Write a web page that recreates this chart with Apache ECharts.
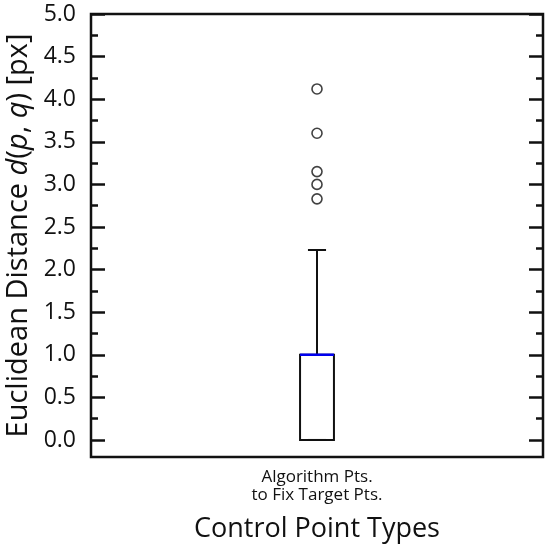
<!DOCTYPE html>
<html>
<head>
<meta charset="utf-8">
<script src="https://cdn.jsdelivr.net/npm/echarts@6/dist/echarts.min.js"></script>
<style>html,body{margin:0;padding:0;background:#fff}#c{width:550px;height:548px}</style>
</head>
<body>
<div id="c"></div>
<script>
// ---- data ----
const categories = ['Algorithm Pts.\nto Fix Target Pts.'];
// [whisker low, Q1, median, Q3, whisker high]
const boxStats = [0.0, 0.0, 1.0, 1.0, 2.23];
const outliers = [2.83, 3.0, 3.15, 3.6, 4.12];
const yMajorTicks = [0.0, 0.5, 1.0, 1.5, 2.0, 2.5, 3.0, 3.5, 4.0, 4.5, 5.0];
const yMinorTicks = [0.25, 0.75, 1.25, 1.75, 2.25, 2.75, 3.25, 3.75, 4.25, 4.75];
const yMin = -0.2, yMax = 5.0;

const FONT = 'Open Sans';
const INK = '#111';

const chart = echarts.init(document.getElementById('c'), null, {renderer: 'canvas'});

function yAxisDef(pos, ticks, len, labels) {
  return {
    type: 'value', position: pos, min: yMin, max: yMax,
    axisLine: {show: false},
    splitLine: {show: false},
    axisTick: {show: true, inside: true, length: len, customValues: ticks,
               lineStyle: {color: INK, width: 2.5}},
    axisLabel: labels ? {show: true, customValues: ticks, fontFamily: FONT, fontSize: 23,
               color: '#111', margin: 15, formatter: v => v.toFixed(1)} : {show: false}
  };
}

const left = yAxisDef('left', yMajorTicks, 14, true);
left.name = '{n|Euclidean Distance }{i|d}{n|(}{i|p}{n|, }{i|q}{n|) [px]}';
left.nameLocation = 'middle';
left.nameGap = 58;
left.nameTextStyle = {
  rich: {
    n: {fontFamily: FONT, fontSize: 29, color: '#111'},
    i: {fontFamily: FONT, fontSize: 29, color: '#111', fontStyle: 'italic'}
  }
};

const option = {
  animation: false,
  backgroundColor: '#fff',
  grid: {left: 91, right: 7, top: 14, bottom: 91, show: true, outerBoundsMode: 'none',
         containLabel: false,
         borderColor: INK, borderWidth: 2.5, backgroundColor: 'transparent'},
  xAxis: {
    type: 'category', data: categories, boundaryGap: true,
    axisLine: {show: false},
    axisTick: {show: true, inside: true, alignWithLabel: true, length: 7,
               lineStyle: {color: INK, width: 2.5}},
    axisLabel: {fontFamily: FONT, fontSize: 17, color: '#111', lineHeight: 18, margin: 11},
    name: 'Control Point Types', nameLocation: 'middle', nameGap: 59,
    nameTextStyle: {fontFamily: FONT, fontSize: 27, color: '#111'}
  },
  yAxis: [
    left,
    yAxisDef('left', yMinorTicks, 7, false),
    yAxisDef('right', yMajorTicks, 14, false),
    yAxisDef('right', yMinorTicks, 7, false)
  ],
  series: [
    {
      type: 'custom',
      data: [[0].concat(boxStats)],
      encode: {x: 0, y: [1, 2, 3, 4, 5]},
      z: 3,
      renderItem: function (params, api) {
        const cat = api.value(0);
        const lo = api.coord([cat, api.value(1)]);
        const q1 = api.coord([cat, api.value(2)]);
        const md = api.coord([cat, api.value(3)]);
        const q3 = api.coord([cat, api.value(4)]);
        const hi = api.coord([cat, api.value(5)]);
        const band = api.size([1, 0])[0];
        const hw = band * 0.075 / 2;
        const cw = band * 0.04 / 2;
        const x = q1[0];
        const ls = {stroke: INK, lineWidth: 2, fill: null};
        return {
          type: 'group',
          children: [
            {type: 'rect', shape: {x: x - hw, y: q3[1], width: 2 * hw, height: q1[1] - q3[1]},
             style: {stroke: INK, lineWidth: 2, fill: '#fff'}},
            {type: 'line', shape: {x1: x, y1: q3[1], x2: x, y2: hi[1]}, style: ls},
            {type: 'line', shape: {x1: x - cw, y1: hi[1], x2: x + cw, y2: hi[1]}, style: ls},
            {type: 'line', shape: {x1: x, y1: q1[1], x2: x, y2: lo[1]}, style: ls},
            {type: 'line', shape: {x1: x - cw, y1: lo[1], x2: x + cw, y2: lo[1]}, style: ls},
            {type: 'line', shape: {x1: x - hw, y1: md[1], x2: x + hw, y2: md[1]},
             style: {stroke: '#0000ee', lineWidth: 2.5}}
          ]
        };
      }
    },
    {
      type: 'scatter',
      data: outliers.map(v => [0, v]),
      symbol: 'circle', symbolSize: 10,
      itemStyle: {color: '#fff', borderColor: INK, borderWidth: 1.6},
      z: 4
    }
  ]
};
chart.setOption(option);
</script>
</body>
</html>
